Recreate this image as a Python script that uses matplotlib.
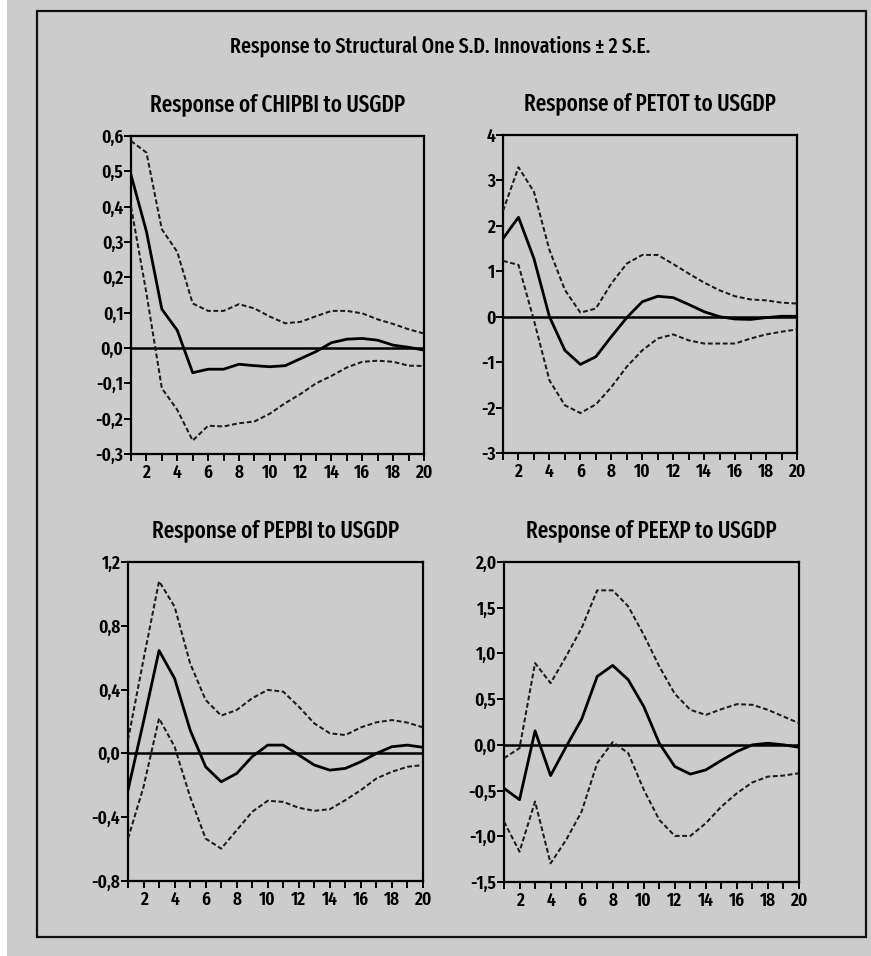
import matplotlib
matplotlib.use("Agg")
import matplotlib.pyplot as plt
import matplotlib.font_manager as fm
from matplotlib.patches import Rectangle
from matplotlib.ticker import FixedLocator, FuncFormatter


def narrow_level(entry):
    """0 = extra condensed, 1 = condensed / narrow, None = regular width."""
    n = entry.name.lower().replace(" ", "")
    s = str(entry.stretch).lower()
    if "extracondensed" in n or s in ("extra-condensed", "ultra-condensed", "200", "100"):
        return 0
    if "condensed" in n or "narrow" in n or s in ("condensed", "semi-condensed", "300", "400"):
        return 1
    return None


_family_order = ["noto sans", "roboto", "open sans", "liberation sans", "dejavu sans"]


def family_rank(entry):
    n = entry.name.lower()
    for i, f in enumerate(_family_order):
        if n.startswith(f):
            return i
    return len(_family_order)


_cands = [e for e in fm.fontManager.ttflist if narrow_level(e) is not None]
_cands.sort(key=lambda e: (narrow_level(e), family_rank(e)))
if _cands:
    FAMILY, STRETCH, LEVEL = _cands[0].name, _cands[0].stretch, narrow_level(_cands[0])
else:
    FAMILY, STRETCH, LEVEL = "Lato", "normal", 2

plt.rcParams['font.family'] = [FAMILY, 'DejaVu Sans']
plt.rcParams['font.stretch'] = STRETCH

SUB_SIZE = {0: 16.5, 1: 15, 2: 13.5}[LEVEL]
MAIN_SIZE = {0: 15.5, 1: 14, 2: 12.5}[LEVEL]
TICK_SIZE = {0: 13.5, 1: 13, 2: 11.5}[LEVEL]

periods = list(range(1, 21))

# CHIPBI response to USGDP
chipbi_resp = [0.49, 0.33, 0.11, 0.05, -0.07, -0.06, -0.06, -0.046, -0.05, -0.053,
               -0.05, -0.03, -0.01, 0.015, 0.025, 0.027, 0.022, 0.008, 0.002, -0.006]
chipbi_up = [0.586, 0.553, 0.336, 0.272, 0.126, 0.105, 0.105, 0.124, 0.112, 0.089,
             0.070, 0.074, 0.09, 0.105, 0.105, 0.098, 0.081, 0.068, 0.053, 0.041]
chipbi_lo = [0.40, 0.155, -0.114, -0.175, -0.262, -0.22, -0.222, -0.213, -0.208, -0.186,
             -0.156, -0.13, -0.10, -0.079, -0.055, -0.039, -0.036, -0.039, -0.05, -0.051]

# PETOT response to USGDP
petot_resp = [1.72, 2.19, 1.28, 0.0, -0.74, -1.05, -0.88, -0.44, -0.02, 0.33,
              0.45, 0.42, 0.27, 0.11, 0.0, -0.05, -0.06, -0.02, 0.01, 0.01]
petot_up = [2.33, 3.29, 2.75, 1.47, 0.59, 0.09, 0.18, 0.73, 1.17, 1.36,
            1.36, 1.16, 0.95, 0.75, 0.58, 0.45, 0.38, 0.36, 0.31, 0.29]
petot_lo = [1.23, 1.14, -0.08, -1.40, -1.95, -2.12, -1.93, -1.55, -1.10, -0.74,
            -0.48, -0.39, -0.52, -0.59, -0.59, -0.59, -0.48, -0.39, -0.33, -0.28]

# PEPBI response to USGDP
pepbi_resp = [-0.23, 0.20, 0.645, 0.47, 0.147, -0.084, -0.178, -0.126, -0.02, 0.052,
              0.052, -0.01, -0.073, -0.105, -0.094, -0.052, 0.0, 0.042, 0.052, 0.038]
pepbi_up = [0.084, 0.59, 1.08, 0.92, 0.565, 0.335, 0.237, 0.272, 0.346, 0.398,
            0.387, 0.293, 0.188, 0.126, 0.115, 0.163, 0.195, 0.209, 0.193, 0.163]
pepbi_lo = [-0.534, -0.21, 0.22, 0.042, -0.272, -0.534, -0.597, -0.482, -0.366, -0.297,
            -0.304, -0.341, -0.36, -0.35, -0.293, -0.23, -0.157, -0.115, -0.084, -0.073]

# PEEXP response to USGDP
peexp_resp = [-0.475, -0.60, 0.153, -0.336, -0.02, 0.28, 0.748, 0.869, 0.712, 0.42,
              0.018, -0.237, -0.32, -0.274, -0.17, -0.073, 0.0, 0.018, 0.0, -0.026]
peexp_up = [-0.146, -0.036, 0.894, 0.675, 0.967, 1.277, 1.69, 1.69, 1.515, 1.204,
            0.858, 0.558, 0.383, 0.328, 0.39, 0.445, 0.438, 0.383, 0.31, 0.237]
peexp_lo = [-0.84, -1.168, -0.62, -1.296, -1.04, -0.73, -0.2, 0.03, -0.09, -0.49,
            -0.82, -0.996, -0.996, -0.857, -0.675, -0.529, -0.41, -0.347, -0.336, -0.31]

panel_titles = ["Response of CHIPBI to USGDP", "Response of PETOT to USGDP",
                "Response of PEPBI to USGDP", "Response of PEEXP to USGDP"]
chipbi_ticks = [-0.3, -0.2, -0.1, 0.0, 0.1, 0.2, 0.3, 0.4, 0.5, 0.6]
petot_ticks = [-3, -2, -1, 0, 1, 2, 3, 4]
pepbi_ticks = [-0.8, -0.4, 0.0, 0.4, 0.8, 1.2]
peexp_ticks = [-1.5, -1.0, -0.5, 0.0, 0.5, 1.0, 1.5, 2.0]
x_labels = [2, 4, 6, 8, 10, 12, 14, 16, 18, 20]

W, H = 871, 956
BG = "#cccccc"
fig = plt.figure(figsize=(W / 100, H / 100), dpi=100, facecolor=BG)

# white strip on the left edge and the outer frame
fig.patches.append(Rectangle((0, 0), 7 / W, 1, transform=fig.transFigure,
                             facecolor="white", edgecolor="none", zorder=0))
fig.patches.append(Rectangle((37 / W, 1 - 937 / H), (866 - 37) / W, (937 - 11) / H,
                             transform=fig.transFigure, facecolor="none",
                             edgecolor="#111111", linewidth=1.6, zorder=1))


def box(l, r, t, b):
    return [l / W, 1 - b / H, (r - l) / W, (b - t) / H]


def fmt_comma(decimals):
    def f(v, pos):
        return f"{v:.{decimals}f}".replace(".", ",")
    return FuncFormatter(f)


panels = [
    (box(131, 424, 136, 454), chipbi_resp, chipbi_up, chipbi_lo, chipbi_ticks, 1),
    (box(503, 797, 135, 453), petot_resp, petot_up, petot_lo, petot_ticks, 0),
    (box(128, 423, 562, 881), pepbi_resp, pepbi_up, pepbi_lo, pepbi_ticks, 1),
    (box(504, 799, 562, 882), peexp_resp, peexp_up, peexp_lo, peexp_ticks, 1),
]

for (pos, resp, up, lo, yt, dec), title in zip(panels, panel_titles):
    ax = fig.add_axes(pos)
    ax.set_facecolor(BG)
    ax.axhline(0, color="black", linewidth=1.8, zorder=2)
    ax.plot(periods, up, color="#1a1a1a", linewidth=1.45, linestyle=(0, (2.4, 1.3)), zorder=3)
    ax.plot(periods, lo, color="#1a1a1a", linewidth=1.45, linestyle=(0, (2.4, 1.3)), zorder=3)
    ax.plot(periods, resp, color="black", linewidth=2.0, zorder=4)
    ax.set_xlim(1, 20)
    ax.set_ylim(yt[0], yt[-1])
    ax.xaxis.set_major_locator(FixedLocator(x_labels))
    ax.xaxis.set_minor_locator(FixedLocator([p for p in periods if p % 2 == 1]))
    ax.yaxis.set_major_locator(FixedLocator(yt))
    ax.yaxis.set_major_formatter(fmt_comma(dec))
    ax.xaxis.set_major_formatter(FuncFormatter(lambda v, p: f"{int(v)}"))
    for sp in ax.spines.values():
        sp.set_linewidth(1.6)
        sp.set_color("black")
    ax.tick_params(axis="x", which="both", direction="out", length=5, width=1.4,
                   labelsize=TICK_SIZE, pad=2, colors="black")
    ax.tick_params(axis="y", which="major", direction="out", length=5, width=1.4,
                   labelsize=TICK_SIZE, pad=0.5, colors="black")
    for lab in ax.get_xticklabels() + ax.get_yticklabels():
        lab.set_fontweight("semibold")
    ax.set_title(title, fontsize=SUB_SIZE, pad=18, color="black", fontweight="medium")

fig.text(440 / W, 1 - 46 / H, "Response to Structural One S.D. Innovations \u00b1 2 S.E.",
         ha="center", va="center", fontsize=MAIN_SIZE, color="black", fontweight="medium")

fig.savefig("out.png", dpi=100, facecolor=BG)
